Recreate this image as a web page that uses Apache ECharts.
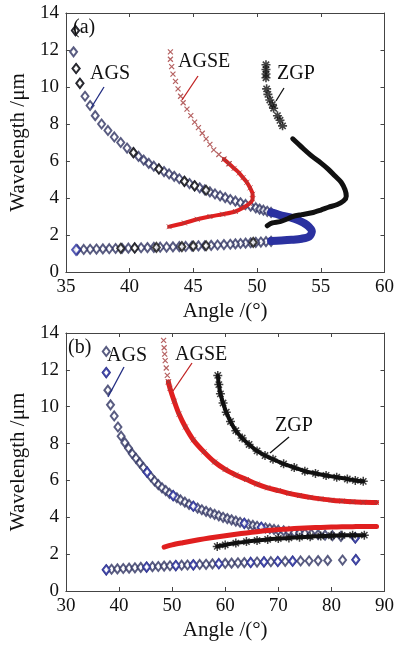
<!DOCTYPE html>
<html>
<head>
<meta charset="utf-8">
<script src="https://cdn.jsdelivr.net/npm/echarts@6/dist/echarts.min.js"></script>
<style>
html,body{margin:0;padding:0;background:#fff}
#Chart{width:397px;height:648px}
</style>
</head>
<body>
<div id="Chart"></div>
<script>
// axis ranges / ticks
var xTicksA=[35,60,5], xTicksB=[30,90,10], yTicks=[0,14,2]

// (a) AGS: sparse diamonds, blue dense nose, lower branch
var agsA_upper=[[35.75,13.05],[35.6,11.9],[35.8,11.0],[36.1,10.2],[36.5,9.5],[36.9,9.0],[37.3,8.45],[37.8,8.0],[38.3,7.65],[38.8,7.3],[39.3,7.0],[39.8,6.7],[40.3,6.45],[40.7,6.25],[41.1,6.05],[41.5,5.87],[41.9,5.72],[42.3,5.57],[42.7,5.43],[43.1,5.3],[43.5,5.17],[43.9,5.04],[44.3,4.9],[44.7,4.78],[45.1,4.66],[45.5,4.55],[45.9,4.44],[46.3,4.33],[46.7,4.22],[47.1,4.12],[47.5,4.02],[47.9,3.92],[48.3,3.83],[48.7,3.74],[49.1,3.65],[49.5,3.56],[49.9,3.47],[50.2,3.4],[50.5,3.34],[50.8,3.28],[51.1,3.22]]
var agsA_nose=[[51.1,3.22],[51.8,3.08],[52.6,2.95],[53.3,2.78],[53.9,2.55],[54.3,2.2],[54.1,1.92],[53.5,1.8],[52.7,1.74],[51.9,1.7],[51.1,1.67]]
var agsA_lower=[[51.1,1.66],[50.7,1.64],[50.3,1.62],[49.9,1.6],[49.5,1.58],[49.1,1.56],[48.7,1.54],[48.3,1.52],[47.9,1.5],[47.4,1.48],[46.9,1.46],[46.4,1.44],[45.9,1.42],[45.4,1.41],[44.9,1.4],[44.4,1.38],[43.9,1.37],[43.4,1.36],[42.9,1.35],[42.4,1.34],[41.9,1.33],[41.4,1.32],[40.9,1.31],[40.4,1.3],[39.9,1.29],[39.4,1.28],[38.9,1.27],[38.4,1.26],[37.9,1.25],[37.4,1.24],[36.9,1.23],[36.4,1.22],[35.9,1.2]]
var agsA_bold=[[35.75,13.05],[35.8,11.0],[36.1,10.2],[40.3,6.45],[42.3,5.57],[44.3,4.9],[45.1,4.66],[46.0,4.42],[39.3,1.28],[40.4,1.3],[42.1,1.33],[44.1,1.37],[45.0,1.4],[46.0,1.42],[49.7,1.6]]
var agsA_blue=[[35.8,1.2]]

// (a) AGSE
var agseA_marks=[[43.2,11.9],[43.2,11.5],[43.3,11.1],[43.4,10.7],[43.6,10.3],[43.8,9.9],[44.0,9.5],[44.2,9.15],[44.5,8.8],[44.8,8.45],[45.1,8.1],[45.4,7.8],[45.7,7.5],[46.0,7.2],[46.3,6.9],[46.6,6.6],[47.0,6.35],[47.4,6.1],[47.8,5.85]]
var agseA_line=[[47.4,6.1],[47.8,5.85],[48.2,5.6],[48.6,5.35],[48.9,5.1],[49.2,4.85],[49.45,4.55],[49.65,4.2],[49.65,3.95],[49.4,3.7],[48.9,3.47],[48.3,3.27],[47.3,3.12],[46.3,3.0],[45.3,2.85],[44.3,2.65],[43.1,2.45]]

// (a) ZGP
var zgpA_marks=[[50.7,11.2],[50.7,10.95],[50.7,10.7],[50.7,10.5],[50.75,9.9],[50.85,9.6],[51.0,9.3],[51.2,9.05],[51.3,8.85],[51.6,8.45],[51.8,8.2],[52.0,7.9]]
var zgpA_line=[[52.8,7.2],[53.5,6.75],[54.3,6.26],[55.0,5.9],[55.6,5.55],[56.1,5.2],[56.6,4.85],[56.9,4.45],[57.0,4.1],[56.8,3.85],[56.3,3.65],[55.6,3.5],[55.0,3.35],[54.3,3.2],[53.5,3.1],[52.8,3.0],[52.3,2.85],[51.8,2.72],[51.2,2.65],[50.8,2.5]]

// (b) AGS
var agsB_upper=[[37.6,13.0],[37.6,11.85],[37.9,10.9],[38.4,10.1],[39.1,9.5],[39.8,8.9],[40.4,8.4],[41.1,8.05],[41.8,7.75],[42.5,7.45],[43.2,7.2],[43.9,6.95],[44.6,6.7],[45.3,6.45],[46.0,6.2],[46.7,5.97],[47.4,5.77],[48.1,5.6],[48.8,5.45],[49.5,5.3],[50.2,5.18],[50.9,5.06],[51.6,4.94],[52.4,4.82],[53.2,4.7],[54.0,4.6],[54.8,4.5],[55.6,4.41],[56.4,4.32],[57.2,4.24],[58.0,4.16],[58.8,4.08],[59.6,4.0],[60.4,3.93],[61.2,3.86],[62.0,3.79],[62.8,3.73],[63.6,3.67],[64.4,3.61],[65.2,3.56],[66.0,3.51],[66.8,3.46],[67.6,3.42],[68.4,3.38],[69.2,3.34],[70.0,3.3],[71.0,3.26],[72.0,3.22],[73.0,3.18],[74.0,3.15],[75.0,3.12],[76.2,3.09],[77.5,3.06],[78.8,3.03],[80.2,3.0],[81.8,2.96],[84.5,2.88]]
var agsB_lower=[[37.6,1.15],[38.6,1.18],[39.7,1.2],[40.8,1.22],[41.9,1.24],[43.0,1.26],[44.1,1.28],[45.2,1.3],[46.3,1.32],[47.4,1.33],[48.5,1.35],[49.6,1.37],[50.7,1.38],[51.8,1.4],[52.9,1.41],[54.0,1.42],[55.2,1.44],[56.4,1.45],[57.6,1.47],[58.8,1.48],[60.0,1.5],[61.2,1.51],[62.4,1.53],[63.6,1.54],[64.8,1.55],[66.0,1.57],[67.3,1.58],[68.6,1.59],[69.9,1.6],[71.3,1.61],[72.7,1.62],[74.2,1.63],[75.8,1.64],[77.5,1.65],[79.3,1.66],[82.1,1.68],[84.6,1.7]]
var agsB_bold=[[37.6,11.85],[45.3,6.45],[50.2,5.18],[54.0,4.6],[63.6,3.67],[66.8,3.46],[37.6,1.15],[45.2,1.3],[50.7,1.38],[54.0,1.42],[58.8,1.48],[64.8,1.55],[67.3,1.58],[69.9,1.6],[72.7,1.62],[84.6,1.7],[84.5,2.88]]

// (b) AGSE
var agseB_marks=[[48.4,13.6],[48.5,13.2],[48.6,12.85],[48.7,12.5],[48.9,12.1],[49.1,11.7],[49.3,11.35]]
var agseB_upper=[[49.3,11.35],[49.6,11.0],[50.4,10.3],[51.3,9.6],[52.5,8.9],[54.0,8.2],[56.0,7.55],[58.0,7.0],[60.0,6.6],[62.0,6.3],[64.0,6.05],[66.0,5.8],[68.0,5.6],[70.0,5.45],[72.0,5.3],[74.0,5.18],[76.0,5.08],[78.0,5.0],[80.0,4.93],[82.0,4.88],[84.0,4.84],[86.0,4.81],[88.5,4.8]]
var agseB_lower=[[48.5,2.38],[50,2.5],[52,2.62],[54,2.73],[56,2.83],[58,2.92],[60,3.0],[62,3.08],[64,3.15],[66,3.22],[68,3.28],[70,3.33],[72,3.37],[74,3.4],[76,3.43],[78,3.45],[80,3.47],[82,3.48],[84,3.49],[86,3.5],[88.5,3.5]]

// (b) ZGP
var zgpB_upper=[[58.6,11.7],[58.8,11.2],[59.1,10.7],[59.6,10.2],[60.2,9.7],[61.0,9.2],[62.0,8.7],[63.2,8.3],[64.5,7.95],[66.0,7.6],[67.5,7.35],[69.0,7.15],[71.0,6.9],[73.0,6.7],[75.0,6.5],[77.0,6.38],[79.0,6.27],[81.0,6.17],[83.0,6.08],[84.5,6.0],[86.0,5.95]]
var zgpB_lower=[[58.5,2.42],[60,2.5],[62,2.6],[64,2.68],[66,2.74],[68,2.8],[70,2.85],[72,2.88],[74,2.92],[76,2.95],[78,2.98],[80,3.0],[82,3.02],[84,3.03],[86.2,3.03]]

var FONT='Liberation Serif'
var STAR='path://M5,0L5,10M0,5L10,5M1.5,1.5L8.5,8.5M1.5,8.5L8.5,1.5'
var CROSS='path://M0,0L10,10M0,10L10,0'
var NAVY='#2f3362', BLUE='#2b31a0', RED='#e01f1f', DRED='#a33a3a'

function xAx(g,t,top){
    return {
        type:'value',gridIndex:g,min:t[0],max:t[1],interval:t[2],
        position:top?'top':'bottom',
        name:top?'':'Angle /(°)',nameLocation:'middle',nameGap:29,
        nameTextStyle:{fontFamily:FONT,fontSize:21,color:'#111'},
        axisLine:{show:true,onZero:false,lineStyle:{color:'#444',width:1}},
        axisTick:{inside:true,length:4,lineStyle:{color:'#444'}},
        axisLabel:{show:!top,fontFamily:FONT,fontSize:19,color:'#111',margin:6},
        splitLine:{show:false}
    }
}
function yAx(g,right){
    return {
        type:'value',gridIndex:g,min:yTicks[0],max:yTicks[1],interval:yTicks[2],
        position:right?'right':'left',
        name:right?'':'Wavelength /μm',nameLocation:'middle',nameGap:31,
        nameTextStyle:{fontFamily:FONT,fontSize:21,color:'#111'},
        axisLine:{show:true,onZero:false,lineStyle:{color:'#444',width:1}},
        axisTick:{inside:true,length:4,lineStyle:{color:'#444'}},
        axisLabel:{show:!right,fontFamily:FONT,fontSize:19,color:'#111',margin:7},
        splitLine:{show:false}
    }
}

//散点
function dots(data,g,symbol,size,color,bw,z){
    var empty=symbol=='emptyDiamond'
    return {
        type:'scatter',xAxisIndex:g,yAxisIndex:g,data:data,symbol:symbol,symbolSize:size,z:z,
        silent:true,
        itemStyle:empty?{color:color,borderWidth:bw}:{color:'none',borderColor:color,borderWidth:bw}
    }
}
//粗线
function band(data,g,color,w,z){
    return {
        type:'line',xAxisIndex:g,yAxisIndex:g,data:data,showSymbol:false,smooth:0.3,z:z,silent:true,
        lineStyle:{color:color,width:w,cap:'round',join:'round'}
    }
}

function txt(s,x,y){
    return {type:'text',x:x,y:y,z:100,style:{text:s,font:'20px "'+FONT+'"',fill:'#111',verticalAlign:'middle'}}
}
function seg(x1,y1,x2,y2,color){
    return {type:'line',z:100,shape:{x1:x1,y1:y1,x2:x2,y2:y2},style:{stroke:color,lineWidth:1.3}}
}

function drawChar(){
    var myChart=echarts.init(document.getElementById('Chart'))
    var option={
        backgroundColor:'#fff',
        animation:false,
        grid:[
            {left:58,top:13,width:330,height:259},
            {left:58,top:333,width:330,height:258}
        ],
        xAxis:[xAx(0,xTicksA,false),xAx(1,xTicksB,false),xAx(0,xTicksA,true),xAx(1,xTicksB,true)],
        yAxis:[yAx(0,false),yAx(1,false),yAx(0,true),yAx(1,true)],
        series:[
            // (a)
            dots(agsA_upper,0,'emptyDiamond',[7,9],NAVY,1.1,2),
            dots(agsA_lower,0,'emptyDiamond',[7,9],NAVY,1.1,2),
            dots(agsA_bold,0,'emptyDiamond',[7,9],'#111',2,3),
            dots(agsA_blue,0,'emptyDiamond',[8,10],BLUE,3,3),
            band(agsA_nose,0,BLUE,8,4),
            band(agseA_line,0,RED,4,5),
            dots(agseA_marks,0,CROSS,5,DRED,1.2,5),
            dots(agseA_line,0,CROSS,5,DRED,1,6),
            band(zgpA_line,0,'#111',5,7),
            dots(zgpA_marks,0,STAR,9,'#111',1.6,7),
            // (b)
            dots(agsB_upper,1,'emptyDiamond',[7,9],NAVY,1.1,2),
            dots(agsB_lower,1,'emptyDiamond',[7,9],NAVY,1.1,2),
            dots(agsB_bold,1,'emptyDiamond',[7,9],BLUE,2,3),
            band(agseB_upper,1,RED,5,5),
            band(agseB_lower,1,RED,5,5),
            dots(agseB_marks,1,CROSS,5,DRED,1.2,5),
            dots(agseB_upper,1,CROSS,5,DRED,1,6),
            band(zgpB_upper,1,'#111',4,7),
            band(zgpB_lower,1,'#111',4,7),
            dots(zgpB_upper,1,STAR,9,'#111',1.5,7),
            dots(zgpB_lower,1,STAR,9,'#111',1.5,7)
        ],
        graphic:[
            txt('(a)',73,28),txt('AGS',90,74),txt('AGSE',178,62),txt('ZGP',277,74),
            seg(91,108,104,87,'#1f2a80'),seg(182,100,198,76,'#c02020'),seg(276,101,284,88,'#111'),
            txt('(b)',68,348),txt('AGS',107,356),txt('AGSE',175,355),txt('ZGP',275,426),
            seg(108,397,124,367,'#1f2a80'),seg(173,391,192,363,'#c02020'),seg(270,453,289,437,'#111')
        ]
    }
    myChart.setOption(option)
}

drawChar()
</script>
</body>
</html>
